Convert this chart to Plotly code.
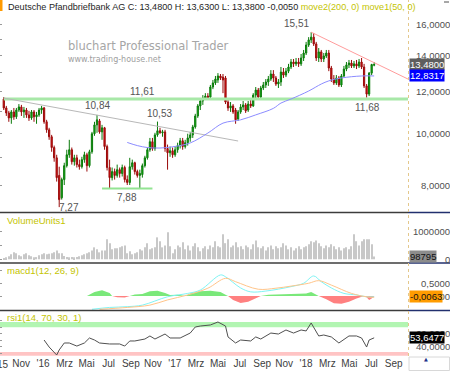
import plotly.graph_objects as go
import pandas as pd
import math

W, H = 450, 371
X_END = 408 / W
X_RANGE = ["2015-09-03 12:00", "2018-10-11"]
FONT = "Liberation Sans, Arial, sans-serif"

# ---------------- data ----------------
dates = pd.date_range("2015-09-14", periods=148, freq="7D")

opens = [11.61, 11.17, 10.93, 10.70, 10.98, 10.75, 11.07, 11.22, 10.98, 11.07,
         10.84, 10.70, 10.98, 10.75, 10.84, 11.07, 11.17, 10.52, 10.16, 9.86,
         9.41, 9.00, 8.34, 7.57, 8.19, 8.70, 9.12, 9.32, 8.85, 9.00,
         8.74, 8.66, 8.93, 9.12, 8.70, 9.24, 9.99, 10.38, 10.56, 10.07,
         10.25, 9.45, 8.63, 8.26, 8.48, 8.34, 8.55, 8.41, 8.63, 8.19,
         8.09, 8.66, 8.81, 8.48, 8.34, 8.37, 8.70, 9.00, 9.32, 9.65,
         9.37, 9.94, 10.12, 10.03, 10.07, 9.37, 9.20, 9.28, 9.12, 9.32,
         9.49, 9.69, 9.45, 9.61, 9.81, 9.94, 10.29, 10.79, 11.27, 11.51,
         11.66, 11.76, 11.71, 12.23, 12.45, 12.61, 12.83, 12.77, 12.72, 11.46,
         11.17, 11.27, 11.07, 10.65, 10.98, 11.22, 11.32, 11.07, 11.36, 11.27,
         11.81, 12.07, 11.71, 12.18, 12.34, 12.50, 12.66, 12.94, 12.72, 12.39,
         12.50, 13.05, 12.88, 13.10, 13.34, 13.63, 13.52, 13.63, 13.52, 13.87,
         14.17, 14.67, 15.00, 15.18, 14.74, 13.87, 14.24, 13.81, 13.99, 14.17,
         13.28, 12.66, 12.45, 12.72, 12.34, 12.83, 13.22, 13.46, 13.57, 13.40,
         13.52, 13.40, 13.63, 13.34, 12.29, 11.86, 12.99, 13.44]
highs = [11.71, 11.27, 11.03, 11.07, 11.17, 11.17, 11.36, 11.32, 11.22, 11.17,
         11.03, 11.07, 11.07, 10.98, 11.17, 11.27, 11.22, 10.61, 10.25, 9.94,
         9.49, 9.12, 8.66, 8.26, 8.81, 9.32, 9.73, 9.41, 9.12, 9.12,
         8.93, 9.04, 9.24, 9.20, 9.32, 10.07, 10.52, 10.84, 10.65, 10.38,
         10.29, 9.53, 8.93, 8.63, 8.59, 8.74, 8.63, 8.74, 8.70, 8.34,
         9.00, 8.93, 8.85, 8.55, 8.55, 8.78, 9.08, 9.41, 9.81, 9.81,
         10.03, 10.53, 10.25, 10.16, 10.16, 9.53, 9.45, 9.41, 9.45, 9.61,
         9.81, 9.81, 9.73, 9.99, 10.07, 10.38, 10.89, 11.36, 11.61, 11.81,
         11.91, 11.91, 12.34, 12.61, 12.83, 12.99, 12.94, 12.94, 12.83, 11.56,
         11.46, 11.36, 11.17, 11.07, 11.36, 11.51, 11.41, 11.51, 11.56, 11.91,
         12.23, 12.18, 12.29, 12.50, 12.66, 12.83, 13.16, 13.16, 12.83, 12.66,
         13.34, 13.28, 13.28, 13.52, 13.81, 13.81, 13.87, 13.87, 14.11, 14.36,
         14.87, 15.18, 15.51, 15.45, 14.87, 14.48, 14.36, 14.17, 14.36, 14.36,
         13.40, 12.88, 12.88, 12.83, 12.94, 13.40, 13.63, 13.75, 13.75, 13.69,
         13.75, 13.81, 13.87, 13.52, 12.39, 13.05, 13.52, 13.63]
lows = [11.07, 10.79, 10.52, 10.43, 10.61, 10.65, 10.98, 10.79, 10.70, 10.70,
        10.56, 10.61, 10.52, 10.43, 10.75, 10.89, 10.43, 10.03, 9.73, 9.24,
        8.85, 8.12, 7.27, 7.51, 8.00, 8.63, 9.00, 8.74, 8.70, 8.63,
        8.55, 8.59, 8.81, 8.48, 8.63, 9.16, 9.90, 10.03, 9.99, 9.73,
        9.32, 8.52, 7.88, 8.16, 8.19, 8.26, 8.26, 8.30, 8.09, 8.00,
        8.00, 8.55, 8.37, 8.26, 7.88, 8.26, 8.63, 8.93, 9.24, 9.28,
        9.28, 9.86, 9.99, 9.86, 9.24, 8.55, 9.04, 9.00, 9.04, 9.20,
        9.37, 9.32, 9.37, 9.49, 9.65, 9.81, 10.21, 10.70, 11.07, 11.32,
        11.56, 11.56, 11.61, 12.12, 12.34, 12.45, 12.61, 11.91, 11.36, 11.03,
        10.98, 10.89, 10.43, 10.56, 10.89, 11.07, 10.93, 10.98, 11.17, 11.22,
        11.66, 11.56, 11.61, 12.07, 12.18, 12.29, 12.56, 12.50, 12.29, 12.18,
        12.29, 12.72, 12.77, 12.99, 13.22, 13.34, 13.40, 13.34, 13.40, 13.69,
        14.05, 14.55, 14.80, 14.61, 13.69, 13.63, 13.63, 13.63, 13.87, 13.10,
        12.50, 12.34, 12.34, 12.23, 12.23, 12.77, 13.10, 13.28, 13.28, 13.28,
        13.22, 13.28, 13.22, 12.18, 11.68, 11.76, 12.88, 13.38]
closes = [11.17, 10.93, 10.70, 10.98, 10.75, 11.07, 11.22, 10.98, 11.07, 10.84,
          10.70, 10.98, 10.75, 10.84, 11.07, 11.17, 10.52, 10.16, 9.86, 9.41,
          9.00, 8.26, 7.51, 8.19, 8.70, 9.12, 9.32, 8.85, 9.00, 8.74,
          8.66, 8.93, 9.12, 8.70, 9.24, 9.99, 10.38, 10.61, 10.07, 10.25,
          9.45, 8.63, 8.26, 8.48, 8.34, 8.55, 8.41, 8.63, 8.19, 8.09,
          8.66, 8.81, 8.48, 8.34, 8.41, 8.70, 9.00, 9.32, 9.65, 9.37,
          9.94, 10.12, 10.03, 10.07, 9.37, 9.20, 9.28, 9.12, 9.32, 9.49,
          9.69, 9.45, 9.61, 9.81, 9.94, 10.29, 10.79, 11.27, 11.51, 11.66,
          11.76, 11.66, 12.23, 12.45, 12.66, 12.83, 12.72, 12.61, 11.46, 11.17,
          11.27, 10.98, 10.61, 10.98, 11.22, 11.32, 11.03, 11.36, 11.27, 11.81,
          12.07, 11.71, 12.18, 12.34, 12.50, 12.66, 12.94, 12.72, 12.39, 12.50,
          13.05, 12.88, 13.10, 13.34, 13.63, 13.52, 13.63, 13.52, 13.87, 14.17,
          14.67, 15.00, 15.18, 14.74, 13.87, 14.24, 13.81, 13.99, 14.17, 13.28,
          12.66, 12.45, 12.72, 12.34, 12.83, 13.22, 13.46, 13.57, 13.40, 13.52,
          13.40, 13.63, 13.34, 12.29, 11.86, 12.99, 13.485, 13.48]

volume_k = [40, 70, 110, 180, 250, 220, 150, 110, 180, 220,
            150, 110, 70, 80, 150, 180, 220, 180, 200, 220,
            250, 320, 220, 220, 120, 80, 70, 80, 70, 80,
            110, 150, 180, 220,
            250, 320, 430, 360, 250, 320, 320, 720, 580, 360, 400, 400, 430, 470, 500,
            220, 290, 180, 220, 250, 360, 320, 430, 580, 360, 400, 430, 790, 650, 430, 500, 970,
            470, 220, 360, 500, 430, 610, 360, 500, 320, 470, 580, 430, 290, 400, 470, 360,
            500, 430, 650, 470, 430,
            900, 580, 720, 430, 500, 610, 430, 470, 360, 500, 430, 360, 540, 680, 430, 400,
            470, 320, 430, 500, 360, 470, 400, 430,
            580, 500, 360, 430, 320, 400, 470, 360, 430, 470, 540, 650, 610, 680, 580, 470,
            400, 500, 430, 540, 470, 360, 430, 320, 400, 430, 360, 470,
            900, 650, 500, 650, 720, 720, 720, 540, 98.795]

ma50_idx = [49, 53, 57, 62, 67, 74, 81, 87, 94, 100, 107, 110, 114, 121, 126, 129, 134, 142, 147]
ma50_val = [9.62, 9.49, 9.41, 9.39, 9.44, 9.60, 10.02, 10.46, 10.61, 10.84, 11.15, 11.41,
            11.61, 12.02, 12.39, 12.56, 12.72, 12.83, 12.8317]

macd_idx = [35, 42, 49, 55, 65, 73, 78, 86, 88, 94, 98, 104, 114, 119, 123, 126, 130, 135, 140, 144, 147]
macd_val = [-0.51, -0.44, -0.41, -0.35, -0.03, 0.10, 0.23, 0.81, 0.74, 0.31, 0.16, 0.19,
            0.36, 0.49, 0.77, 0.55, 0.31, 0.10, 0.04, -0.03, -0.03]
signal_idx = [38, 49, 58, 65, 73, 81, 88, 92, 101, 108, 114, 121, 125, 130, 138, 144, 147]
signal_val = [-0.51, -0.44, -0.35, -0.15, 0.04, 0.30, 0.68, 0.55, 0.26, 0.30, 0.38, 0.49,
              0.59, 0.42, 0.10, -0.03, -0.05]
hist_idx = [33, 36, 39, 42, 43, 45, 48, 50, 52, 55, 58, 61, 64, 66, 69, 72, 74, 78, 82, 86,
            88, 89, 91, 94, 97, 100, 102, 105, 110, 115, 120, 122, 124, 125, 128, 131, 134,
            137, 140, 142, 143, 144, 145, 146, 147]
hist_val = [0, 0.15, 0.22, 0.12, 0, -0.05, -0.06, 0, 0.06, 0.08, 0.18, 0.20, 0.12, 0.04, 0.05,
            0, 0.10, 0.18, 0.20, 0.15, 0.05, 0, -0.15, -0.27, -0.22, -0.08, 0, 0.05, 0.06, 0.08,
            0.10, 0.15, 0.05, 0, -0.12, -0.28, -0.30, -0.22, -0.10, -0.02, 0, -0.05, -0.15,
            -0.10, -0.0063]

rsi_idx = [16, 18, 21, 22, 24, 26, 29, 32, 34, 36, 38, 42, 46, 48, 50, 52, 56, 58, 60, 64,
           66, 70, 74, 76, 78, 82, 85, 88, 89, 92, 94, 98, 100, 102, 106, 109, 112, 115, 118,
           120, 122, 125, 127, 130, 133, 135, 137, 140, 142, 144, 145, 147]
rsi_val = [50.3, 39.5, 27.2, 35.0, 45.7, 45.7, 41.0, 45.7, 53.4, 50.3, 45.7, 44.2, 44.2, 41.0,
           48.8, 48.8, 51.8, 56.5, 51.8, 59.5, 53.4, 53.4, 61.0, 70.3, 71.8, 73.4, 78.0, 71.8,
           55.0, 45.7, 50.3, 48.8, 55.0, 51.8, 61.0, 59.5, 65.7, 61.0, 65.7, 64.2, 76.5, 56.5,
           58.0, 55.0, 45.7, 51.8, 56.5, 56.5, 53.4, 39.5, 50.3, 53.6477]

support_level = 11.61
base_level = 7.88
base_span = (39, 59)
trend_down = [(0, 11.66), (93, 9.68)]
trend_peak = [(122, 15.51), (X_RANGE[1], 12.66)]

price_ticks = [8, 10, 12, 14, 16]
vol_ticks = [0, 1000000]
macd_ticks = [0, 0.5]
rsi_ticks = [40, 60]
rsi_bands = [(70, 78, "#b2f5b2"), (26, 32, "#ffc4c4")]

month_ticks = ["2015-11-01", "2016-01-01", "2016-03-01", "2016-05-01",
               "2016-07-01", "2016-09-01", "2016-11-01", "2017-01-01", "2017-03-01",
               "2017-05-01", "2017-07-01", "2017-09-01", "2017-11-01", "2018-01-01",
               "2018-03-01", "2018-05-01", "2018-07-01", "2018-09-01"]
month_text = ["Nov", "'16", "Mrz", "Mai", "Jul", "Sep", "Nov", "'17", "Mrz", "Mai",
              "Jul", "Sep", "Nov", "'18", "Mrz", "Mai", "Jul", "Sep"]
first_tick_text = "'15"

# ---------------- helpers ----------------
def de(v, d=4):
    return f"{v:.{d}f}".replace(".", ",")


def py(p):
    return 1 - p / H


def pxx(p):
    return p / W


vol = [round(v * 1000) for v in volume_k]
ma_x = [dates[i] for i in ma50_idx]
macd_x = [dates[i] for i in macd_idx]
sig_x = [dates[i] for i in signal_idx]
hist_x = [dates[i] for i in hist_idx]
rsi_x = [dates[i] for i in rsi_idx]

fig = go.Figure()

# main panel
fig.add_trace(go.Scatter(x=[dates[0], X_RANGE[1]], y=[support_level] * 2, mode="lines",
                         line=dict(color="#a8e8a8", width=3), xaxis="x", yaxis="y"))
fig.add_trace(go.Scatter(x=[dates[base_span[0]], dates[base_span[1]]], y=[base_level] * 2,
                         mode="lines", line=dict(color="#92e492", width=2), xaxis="x", yaxis="y"))
fig.add_trace(go.Scatter(x=[dates[trend_down[0][0]], dates[trend_down[1][0]]],
                         y=[trend_down[0][1], trend_down[1][1]], mode="lines",
                         line=dict(color="#b8b8b8", width=1), xaxis="x", yaxis="y"))
fig.add_trace(go.Scatter(x=[dates[trend_peak[0][0]], trend_peak[1][0]],
                         y=[trend_peak[0][1], trend_peak[1][1]], mode="lines",
                         line=dict(color="#ff9c9c", width=1), xaxis="x", yaxis="y"))
fig.add_trace(go.Scatter(x=ma_x, y=ma50_val, mode="lines", line_shape="spline",
                         line=dict(color="#8c8cff", width=1), xaxis="x", yaxis="y"))
fig.add_trace(go.Candlestick(x=dates, open=opens, high=highs, low=lows, close=closes,
                             increasing=dict(line=dict(color="#0a7a0a", width=1), fillcolor="#10b810"),
                             decreasing=dict(line=dict(color="#9a0a0a", width=1), fillcolor="#e01010"),
                             whiskerwidth=0, xaxis="x", yaxis="y"))

# volume
fig.add_trace(go.Bar(x=dates, y=vol, marker=dict(color="#c8c8c8", line=dict(width=0)),
                     width=3 * 86400000, xaxis="x2", yaxis="y2"))

# macd
fig.add_trace(go.Scatter(x=hist_x, y=[max(v, 0) for v in hist_val], mode="lines",
                         line=dict(width=0, color="#7ae87a"), fill="tozeroy",
                         fillcolor="#7ae87a", xaxis="x3", yaxis="y3"))
fig.add_trace(go.Scatter(x=hist_x, y=[min(v, 0) for v in hist_val], mode="lines",
                         line=dict(width=0, color="#ff7f7f"), fill="tozeroy",
                         fillcolor="#ff8080", xaxis="x3", yaxis="y3"))
fig.add_trace(go.Scatter(x=macd_x, y=macd_val, mode="lines", line_shape="spline",
                         line=dict(color="#7ff4f4", width=1), xaxis="x3", yaxis="y3"))
fig.add_trace(go.Scatter(x=sig_x, y=signal_val, mode="lines", line_shape="spline",
                         line=dict(color="#ffc58a", width=1), xaxis="x3", yaxis="y3"))

# rsi
fig.add_trace(go.Scatter(x=rsi_x, y=rsi_val, mode="lines",
                         line=dict(color="#505050", width=1), xaxis="x4", yaxis="y4"))

# ---------------- layout ----------------
doms = {
    "y": (py(212), 1.0),
    "y2": (py(263), py(213)),
    "y3": (py(310), py(263)),
    "y4": (py(356), py(311)),
}
ranges = {
    "y": [0.85234, 1.25113],
    "y2": [-133000, 1665500],
    "y3": [-0.538, 1.269],
    "y4": [25.7, 94.9],
}
lt = {"y": [8, 9, 10, 11, 12, 13, 14, 15, 16], "y2": [0, 500000, 1000000],
      "y3": [-0.5, 0, 0.5, 1.0], "y4": [30, 40, 50, 60, 70, 80]}

layout = dict(width=W, height=H, margin=dict(l=0, r=0, t=0, b=0),
              paper_bgcolor="white", plot_bgcolor="white", showlegend=False,
              font=dict(family=FONT, size=10, color="#404040"))

for ax in ["x", "x2", "x3", "x4"]:
    name = "xaxis" if ax == "x" else "xaxis" + ax[1:]
    yk = "y" if ax == "x" else "y" + ax[1:]
    d = dict(domain=[0, X_END], anchor=yk, type="date", range=X_RANGE,
             showgrid=False, zeroline=False, showline=False, showticklabels=False,
             ticks="", fixedrange=True)
    if ax != "x":
        d["matches"] = "x"
    else:
        d["rangeslider"] = dict(visible=False)
    if ax == "x4":
        d.update(showticklabels=True, tickmode="array", tickvals=month_ticks,
                 ticktext=month_text, tickfont=dict(size=10, color="#404040", family=FONT),
                 tickangle=0)
    layout[name] = d

for yk in ["y", "y2", "y3", "y4"]:
    name = "yaxis" if yk == "y" else "yaxis" + yk[1:]
    xk = "x" if yk == "y" else "x" + yk[1:]
    d = dict(domain=list(doms[yk]), anchor=xk, range=ranges[yk], showgrid=False,
             zeroline=False, showline=False, showticklabels=False, ticks="inside",
             ticklen=2, tickcolor="#9a9a9a", tickmode="array", tickvals=lt[yk],
             fixedrange=True)
    if yk == "y":
        d["type"] = "log"
    layout[name] = d

shapes = []
for y0, y1, col in rsi_bands:
    shapes.append(dict(type="rect", xref="paper", yref="y4", x0=0, x1=X_END, y0=y0, y1=y1,
                       fillcolor=col, line=dict(width=0), layer="below"))
for p in [212.5, 263, 310.5]:
    shapes.append(dict(type="line", xref="paper", yref="paper", x0=0, x1=X_END, y0=py(p),
                       y1=py(p), line=dict(color="#3c3c3c", width=1.5)))
    shapes.append(dict(type="line", xref="paper", yref="paper", x0=X_END, x1=1, y0=py(p),
                       y1=py(p), line=dict(color="#22306e", width=1.5)))
shapes.append(dict(type="line", xref="paper", yref="paper", x0=pxx(408.5), x1=pxx(408.5),
                   y0=py(356), y1=1, line=dict(color="#e4c88c", width=1, dash="dot")))
shapes.append(dict(type="rect", xref="paper", yref="paper", x0=0, x1=pxx(2.5), y0=py(11),
                   y1=1, fillcolor="#ff9a00", line=dict(width=0)))
shapes.append(dict(type="line", xref="paper", yref="paper", x0=pxx(444), x1=pxx(449),
                   y0=py(2), y1=py(2), line=dict(color="#505050", width=1)))
shapes.append(dict(type="rect", xref="paper", yref="paper", x0=pxx(409), x1=pxx(449.5),
                   y0=py(370.5), y1=py(357), line=dict(color="#d8d8d8", width=1)))
layout["shapes"] = shapes

ann = []
olive = "#c4c400"
title = (f"Deutsche Pfandbriefbank AG C: {de(closes[-1])} H: {de(highs[-1])} "
         f"L: {de(lows[-1])} {de(closes[-1] - closes[-2])} "
         f"<span style='color:{olive}'>move2(200, 0) move1(50, 0)</span>")
ann.append(dict(text=title, xref="paper", yref="paper", x=pxx(5.5), y=py(6.5), xanchor="left",
                yanchor="middle", showarrow=False, font=dict(size=9.1, color="#1e1e1e", family=FONT)))
ann.append(dict(text="bluchart Professional Trader", xref="paper", yref="paper", x=pxx(66),
                y=py(46), xanchor="left", yanchor="middle", showarrow=False,
                font=dict(size=11.5, color="#a6a6a6", family="DejaVu Sans")))
ann.append(dict(text="www.trading-house.net", xref="paper", yref="paper", x=pxx(66),
                y=py(59), xanchor="left", yanchor="middle", showarrow=False,
                font=dict(size=8, color="#a0a0a0", family="DejaVu Sans")))
for txt, p in [("VolumeUnits1", 220), ("macd1(12, 26, 9)", 270), ("rsi1(14, 70, 30, 1)", 317)]:
    ann.append(dict(text=txt, xref="paper", yref="paper", x=pxx(5), y=py(p), xanchor="left",
                    yanchor="middle", showarrow=False, font=dict(size=9.5, color=olive, family=FONT)))
# first month label, partly cut at the left edge as in the original
ann.append(dict(text=first_tick_text, xref="paper", yref="paper", x=pxx(9.5), y=py(364),
                xanchor="right", yanchor="middle", showarrow=False,
                font=dict(size=10, color="#404040", family=FONT)))


def plabel(xv, yv, txt, xs=0, ys=0):
    ann.append(dict(text=txt, x=xv, y=yv, xref="x", yref="y", showarrow=False, xshift=xs,
                    yshift=ys, font=dict(size=10, color="#555555", family=FONT)))


plabel(dates[122], math.log10(highs[122]), de(highs[122], 2), -15, 9)
plabel(dates[37], math.log10(highs[37]), de(highs[37], 2), 0, 9)
plabel(dates[61], math.log10(highs[61]), de(highs[61], 2), 2, 8)
plabel(dates[22], math.log10(min(lows)), de(min(lows), 2), 10, 0)
plabel(dates[49], math.log10(base_level), de(base_level, 2), 0, -9)
plabel(dates[55], math.log10(support_level), de(support_level, 2), 0, 8)
plabel(dates[144], math.log10(lows[144]), de(lows[144], 2), 1, -10)


def rlabel(yref, yv, txt):
    ann.append(dict(text=txt, xref="paper", yref=yref, x=1, y=yv, xanchor="right",
                    yanchor="middle", xshift=2, showarrow=False,
                    font=dict(size=9.5, color="#505050", family=FONT)))


for v in price_ticks:
    rlabel("y", math.log10(v), de(v))
for v in vol_ticks:
    rlabel("y2", v, str(v))
for v in macd_ticks:
    rlabel("y3", v, de(v))
for v in rsi_ticks:
    rlabel("y4", v, de(v))


def vbox(yref, yv, txt, bg, fg):
    ann.append(dict(text=txt, xref="paper", yref=yref, x=pxx(409), y=yv, xanchor="left",
                    yanchor="middle", showarrow=False, bgcolor=bg, borderpad=0,
                    font=dict(size=9.5, color=fg, family=FONT)))


vbox("y", math.log10(closes[-1]), de(closes[-1]), "#5e5e5e", "white")
vbox("y", math.log10(ma50_val[-1]), de(ma50_val[-1]), "#0000ff", "white")
vbox("y2", vol[-1], str(vol[-1]), "#8c8c8c", "#111111")
vbox("y3", hist_val[-1], de(hist_val[-1]), "#ff9c00", "#111111")
vbox("y4", rsi_val[-1], de(rsi_val[-1]), "#000000", "white")

ann.append(dict(text="▲", xref="paper", yref="paper", x=pxx(430), y=py(364), showarrow=False,
                font=dict(size=5, color="#22308a", family="DejaVu Sans")))

layout["annotations"] = ann
fig.update_layout(**layout)
fig.write_html("out.html")
